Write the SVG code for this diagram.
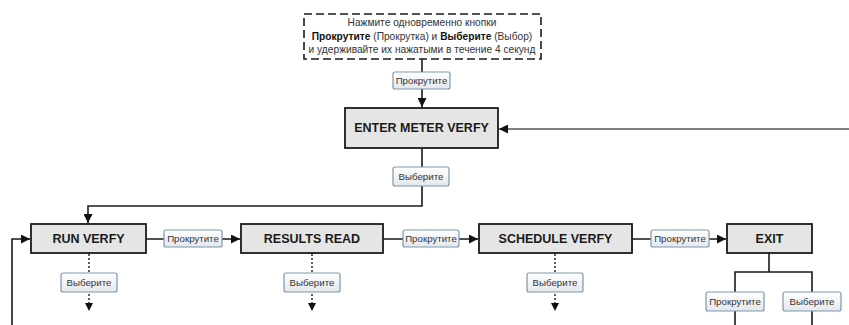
<svg xmlns="http://www.w3.org/2000/svg" width="849" height="325" viewBox="0 0 849 325">
  <defs>
    <linearGradient id="tagFill" x1="0" y1="0" x2="0" y2="1">
      <stop offset="0" stop-color="#ffffff"/>
      <stop offset="1" stop-color="#e3e8ee"/>
    </linearGradient>
    <marker id="arrow" viewBox="0 0 10 10" refX="10" refY="5" markerWidth="9" markerHeight="9" markerUnits="userSpaceOnUse" orient="auto">
      <path d="M0,0 L10,5 L0,10 z" fill="#111"/>
    </marker>
    <style>
      .box { fill: #e5e5e5; stroke: #1a1a1a; stroke-width: 1.8; }
      .boxText { font-family: "Liberation Sans", Arial, sans-serif; font-size: 12.5px; font-weight: bold; fill: #1a1a1a; text-anchor: middle; dominant-baseline: central; }
      .tag { fill: url(#tagFill); stroke: #7f97ab; stroke-width: 1.2; }
      .tagText { font-family: "Liberation Sans", Arial, sans-serif; font-size: 9.7px; fill: #333; text-anchor: middle; dominant-baseline: central; }
      .note { fill: #ffffff; stroke: #1a1a1a; stroke-width: 1.6; stroke-dasharray: 8 4; }
      .noteText { font-family: "Liberation Sans", Arial, sans-serif; font-size: 10.2px; fill: #333; text-anchor: middle; }
      .noteText tspan.b { font-weight: bold; fill: #111; }
      .link { fill: none; stroke: #1a1a1a; stroke-width: 1.6; }
      .back { fill: none; stroke: #555; stroke-width: 1.6; }
      .dot { fill: none; stroke: #1a1a1a; stroke-width: 1.4; stroke-dasharray: 2 2; }
    </style>
  </defs>

  <rect width="849" height="325" fill="#ffffff"/>

  <!-- connectors -->
  <g id="connectors">
    <path class="link" d="M422,59 V107" marker-end="url(#arrow)"/>
    <path class="back" d="M849,129 H499" marker-end="url(#arrow)"/>
    <path class="link" d="M422,148 V206 H88 V223" marker-end="url(#arrow)"/>
    <path class="link" d="M12,325 V239 H30" marker-end="url(#arrow)"/>
    <path class="link" d="M146,239 H240" marker-end="url(#arrow)"/>
    <path class="link" d="M383,239 H478" marker-end="url(#arrow)"/>
    <path class="link" d="M632,239 H726" marker-end="url(#arrow)"/>
    <path class="link" d="M769,253 V272 M735,325 V272 H812 V325"/>
    <path class="dot" d="M89,254 V305"/>
    <path class="dot" d="M312,254 V305"/>
    <path class="dot" d="M555,254 V305"/>
    <path d="M85,303 L93,303 L89,311 z" fill="#111"/>
    <path d="M308,303 L316,303 L312,311 z" fill="#111"/>
    <path d="M551,303 L559,303 L555,311 z" fill="#111"/>
  </g>

  <!-- start note -->
  <g id="start-note">
    <rect class="note" x="304" y="14" width="237" height="45"/>
    <text class="noteText" x="422" y="26">Нажмите одновременно кнопки</text>
    <text class="noteText" x="422" y="40"><tspan class="b">Прокрутите</tspan> (Прокрутка) и <tspan class="b">Выберите</tspan> (Выбор)</text>
    <text class="noteText" x="422" y="53">и удерживайте их нажатыми в течение 4 секунд</text>
  </g>

  <!-- labels on connectors -->
  <g id="tag-scroll-top">
    <rect class="tag" x="393" y="72" width="57" height="17" rx="2"/>
    <text class="tagText" x="421.5" y="80.5">Прокрутите</text>
  </g>
  <g id="tag-select-enter">
    <rect class="tag" x="393" y="167" width="56" height="19" rx="2"/>
    <text class="tagText" x="421" y="176.5">Выберите</text>
  </g>
  <g id="tag-scroll-1">
    <rect class="tag" x="164" y="230" width="58" height="17" rx="2"/>
    <text class="tagText" x="193" y="238.5">Прокрутите</text>
  </g>
  <g id="tag-scroll-2">
    <rect class="tag" x="403" y="230" width="56" height="17" rx="2"/>
    <text class="tagText" x="431" y="238.5">Прокрутите</text>
  </g>
  <g id="tag-scroll-3">
    <rect class="tag" x="651" y="230" width="58" height="17" rx="2"/>
    <text class="tagText" x="680" y="238.5">Прокрутите</text>
  </g>
  <g id="tag-select-run">
    <rect class="tag" x="61" y="273" width="56" height="19" rx="2"/>
    <text class="tagText" x="89" y="282.5">Выберите</text>
  </g>
  <g id="tag-select-results">
    <rect class="tag" x="284" y="273" width="56" height="19" rx="2"/>
    <text class="tagText" x="312" y="282.5">Выберите</text>
  </g>
  <g id="tag-select-schedule">
    <rect class="tag" x="527" y="273" width="56" height="19" rx="2"/>
    <text class="tagText" x="555" y="282.5">Выберите</text>
  </g>
  <g id="tag-scroll-exit">
    <rect class="tag" x="706" y="292" width="58" height="19" rx="2"/>
    <text class="tagText" x="735" y="301.5">Прокрутите</text>
  </g>
  <g id="tag-select-exit">
    <rect class="tag" x="783" y="292" width="58" height="19" rx="2"/>
    <text class="tagText" x="812" y="301.5">Выберите</text>
  </g>

  <!-- menu nodes -->
  <g id="enter-meter-verfy">
    <rect class="box" x="345" y="108" width="153" height="40"/>
    <text class="boxText" x="421.5" y="128">ENTER METER VERFY</text>
  </g>
  <g id="run-verfy">
    <rect class="box" x="31" y="224" width="115" height="29"/>
    <text class="boxText" x="88.5" y="238.5">RUN VERFY</text>
  </g>
  <g id="results-read">
    <rect class="box" x="241" y="224" width="142" height="29"/>
    <text class="boxText" x="312" y="238.5">RESULTS READ</text>
  </g>
  <g id="schedule-verfy">
    <rect class="box" x="479" y="224" width="153" height="29"/>
    <text class="boxText" x="555.5" y="238.5">SCHEDULE VERFY</text>
  </g>
  <g id="exit">
    <rect class="box" x="727" y="224" width="85" height="29"/>
    <text class="boxText" x="769.5" y="238.5">EXIT</text>
  </g>
</svg>
